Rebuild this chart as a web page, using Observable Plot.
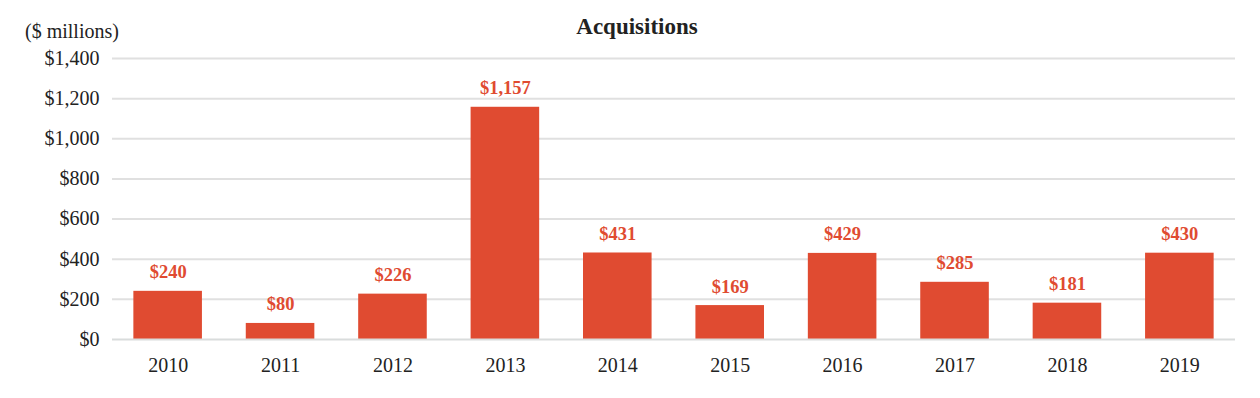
<!DOCTYPE html>
<html>
<head>
<meta charset="utf-8">
<script src="https://cdn.jsdelivr.net/npm/d3@7"></script>
<script src="https://cdn.jsdelivr.net/npm/@observablehq/plot@0.6"></script>
<style>
  html, body { margin: 0; padding: 0; background: #fff; }
  #wrap { position: relative; width: 1260px; height: 398px; font-family: "Liberation Serif", "DejaVu Serif", serif; color: #222; }
  #title { position: absolute; top: 14px; left: 537px; width: 200px; text-align: center; font-size: 23px; font-weight: bold; }
  #unit { position: absolute; top: 20px; left: 25px; font-size: 20px; }
  #chart { position: absolute; top: 0; left: 0; }
</style>
</head>
<body>
<div id="wrap">
  <div id="title">Acquisitions</div>
  <div id="unit">($ millions)</div>
  <div id="chart"></div>
</div>
<script>
const years = ["2010","2011","2012","2013","2014","2015","2016","2017","2018","2019"];
const values = [240, 80, 226, 1157, 431, 169, 429, 285, 181, 430];
const yTicks = [0, 200, 400, 600, 800, 1000, 1200, 1400];

const data = years.map((y, i) => ({year: y, value: values[i]}));
const money = d => "$" + d3.format(",")(d);
const red = "#e04b31";

const chart = Plot.plot({
  width: 1260,
  height: 398,
  marginLeft: 112,
  marginRight: 25,
  marginTop: 58,
  marginBottom: 59,
  style: {fontFamily: '"Liberation Serif", serif', fontSize: "20px", color: "#222", background: "transparent"},
  x: {domain: years, paddingInner: 0.39, paddingOuter: 0.19, round: false, label: null, tickSize: 0, tickPadding: 18},
  y: {domain: [0, 1400], ticks: yTicks, label: null, tickSize: 0, tickPadding: 13, tickFormat: money},
  marks: [
    Plot.gridY(yTicks.filter(d => d > 0), {stroke: "#e0e0e0", strokeOpacity: 1, strokeWidth: 2}),
    Plot.barY(data, {x: "year", y: "value", fill: red}),
    Plot.ruleY([0], {stroke: "#d9dcdc", strokeWidth: 2}),
    Plot.text(data, {x: "year", y: "value", text: d => money(d.value), dy: -19, fill: red, fontWeight: "bold", fontSize: 18.5})
  ]
});
document.getElementById("chart").appendChild(chart);
</script>
</body>
</html>
